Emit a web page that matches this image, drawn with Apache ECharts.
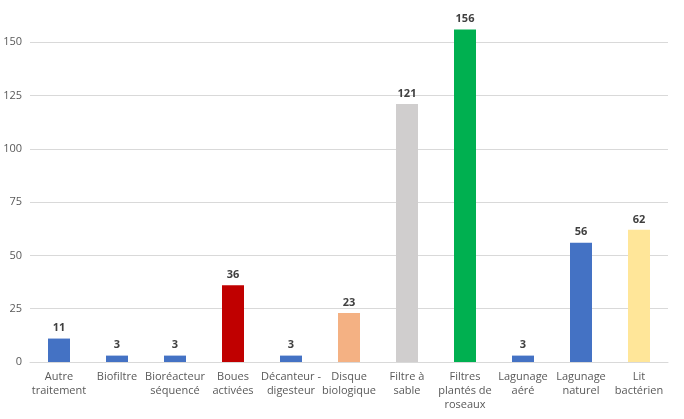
<!DOCTYPE html>
<html><head><meta charset="utf-8">
<script src="https://cdn.jsdelivr.net/npm/echarts@6/dist/echarts.min.js"></script>
<style>html,body{margin:0;padding:0;background:#fff}#main{width:684px;height:419px}</style>
</head><body><div id="main"></div>
<script>
var categories = ['Autre\ntraitement','Biofiltre','Bioréacteur\nséquencé','Boues\nactivées','Décanteur -\ndigesteur','Disque\nbiologique','Filtre à\nsable','Filtres\nplantés de\nroseaux','Lagunage\naéré','Lagunage\nnaturel','Lit\nbactérien'];
var values = [11,3,3,36,3,23,121,156,3,56,62];
var barColors = ['#4472C4','#4472C4','#4472C4','#C00000','#4472C4','#F4B183','#D0CECE','#00B050','#4472C4','#4472C4','#FFE699'];

var myChart = echarts.init(document.getElementById('main'));
var data = [];
for (var i = 0; i < values.length; i++) {
	data.push({value: values[i], itemStyle: {color: barColors[i]}});
}
myChart.setOption({
	animation: false,
	grid: {left: 30, right: 16, top: 21, bottom: 57},
	xAxis: {
		type: 'category',
		data: categories,
		axisTick: {show: false},
		axisLine: {lineStyle: {color: '#D9D9D9'}},
		axisLabel: {color: '#595959', fontSize: 11, fontFamily: 'Open Sans', interval: 0, lineHeight: 14}
	},
	yAxis: {
		type: 'value',
		min: 0, max: 160, interval: 25,
		axisLabel: {color: '#595959', fontSize: 11, fontFamily: 'Open Sans', showMaxLabel: false},
		splitLine: {lineStyle: {color: '#D9D9D9'}, showMaxLine: false}
	},
	series: [{
		type: 'bar',
		data: data,
		barWidth: 22,
		label: {show: true, position: 'top', color: '#404040', fontWeight: 'bold', fontSize: 11, fontFamily: 'Open Sans'}
	}]
});
</script></body></html>
